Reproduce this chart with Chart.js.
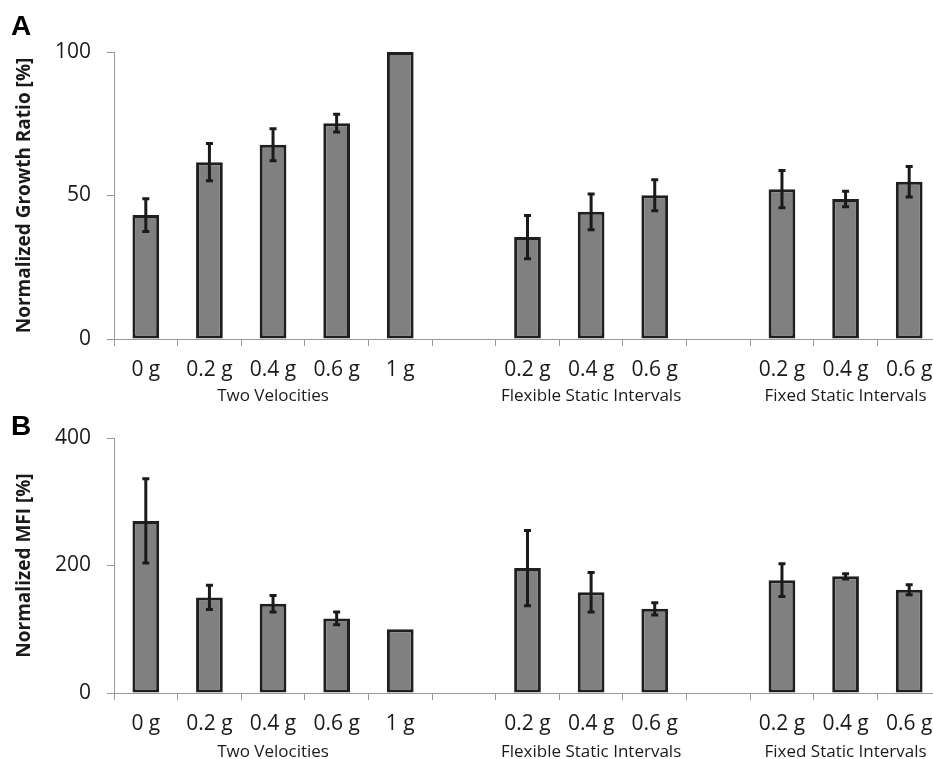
<!DOCTYPE html>
<html>
<head>
<meta charset="utf-8">
<script src="https://cdn.jsdelivr.net/npm/chart.js@4.4.0/dist/chart.umd.min.js"></script>
<style>
    html, body { margin: 0; padding: 0; background: #fff; overflow: hidden; }
    body { width: 933px; height: 759px; position: relative; }
    .panel { position: absolute; left: 0; width: 945px; }
    #panelA { top: 0; height: 404px; }
    #panelB { top: 404px; height: 355px; }
</style>
</head>
<body>
<div class="panel" id="panelA"><canvas id="chartA"></canvas></div>
<div class="panel" id="panelB"><canvas id="chartB"></canvas></div>
<script>
// categories (empty slots are the gaps between groups)
const categories = ['0 g', '0.2 g', '0.4 g', '0.6 g', '1 g', '', '0.2 g', '0.4 g', '0.6 g', '', '0.2 g', '0.4 g', '0.6 g'];
const groupLabels = ['', '', 'Two Velocities', '', '', '', '', 'Flexible Static Intervals', '', '', '', 'Fixed Static Intervals', ''];

// A: normalized growth ratio
const growthRatio = [43.2, 61.6, 67.7, 75.2, 100, null, 35.5, 44.3, 50.1, null, 52.2, 48.8, 54.8];
const growthError = [5.7, 6.5, 5.6, 3.1, 0, null, 7.5, 6.2, 5.4, null, 6.5, 2.7, 5.3];
const growthTicks = [0, 50, 100];

// B: normalized MFI
const mfiValues = [270, 150, 140, 117, 100, null, 196, 158, 132, null, 177, 183, 162];
const mfiError = [66, 19, 13, 10, 0, null, 59, 31, 9.5, null, 25.6, 4, 8];
const mfiTicks = [0, 200, 400];

const axisGray = '#9a9a9a';
const textColor = '#1a1a1a';

// error bars + panel letter
const errorBarPlugin = {
    id: 'errorBars',
    afterDatasetsDraw(chart, args, opts) {
        const ctx = chart.ctx;
        const meta = chart.getDatasetMeta(0);
        const yScale = chart.scales.y;
        const values = chart.data.datasets[0].data;
        ctx.save();
        ctx.strokeStyle = '#1a1a1a';
        ctx.lineWidth = 3;
        ctx.lineCap = 'butt';
        opts.errors.forEach((err, i) => {
            if (values[i] === null || !err) return;
            const x = meta.data[i].x;
            const yTop = yScale.getPixelForValue(values[i] + err);
            const yBot = yScale.getPixelForValue(values[i] - err);
            ctx.beginPath();
            ctx.moveTo(x, yTop);
            ctx.lineTo(x, yBot);
            ctx.moveTo(x - 3.5, yTop);
            ctx.lineTo(x + 3.5, yTop);
            ctx.moveTo(x - 3.5, yBot);
            ctx.lineTo(x + 3.5, yBot);
            ctx.stroke();
        });
        ctx.restore();
    },
    afterDraw(chart, args, opts) {
        const ctx = chart.ctx;
        ctx.save();
        ctx.fillStyle = '#000';
        ctx.font = 'bold 28px "Liberation Sans", Arial, sans-serif';
        ctx.textBaseline = 'alphabetic';
        ctx.fillText(opts.letter, 11, opts.letterY);
        ctx.restore();
    }
};

function makePanel(canvasId, values, errors, ticks, yTitle, letter, letterY, padTop, x2Height, x2Pad) {
    new Chart(document.getElementById(canvasId), {
        type: 'bar',
        data: {
            labels: categories,
            datasets: [{
                data: values,
                backgroundColor: '#808080',
                borderColor: '#1f1f1f',
                borderWidth: 3,
                borderSkipped: false,
                categoryPercentage: 1,
                barPercentage: 0.42
            }]
        },
        options: {
            responsive: true,
            maintainAspectRatio: false,
            animation: false,
            layout: { padding: { top: padTop, right: 4, bottom: 0, left: 0 } },
            plugins: {
                legend: { display: false },
                tooltip: { enabled: false },
                errorBars: { errors: errors, letter: letter, letterY: letterY }
            },
            scales: {
                x: {
                    type: 'category',
                    position: 'bottom',
                    weight: 0,
                    offset: true,
                    grid: { offset: true, drawOnChartArea: false, drawTicks: true, tickLength: 7, color: axisGray },
                    border: { display: true, color: axisGray, width: 1 },
                    ticks: {
                        autoSkip: false, maxRotation: 0, minRotation: 0, padding: 11,
                        color: textColor, font: { family: '"Open Sans", sans-serif', size: 21 }
                    },
                    afterFit: (scale) => { scale.height = 46; }
                },
                x2: {
                    type: 'category',
                    position: 'bottom',
                    weight: 1,
                    offset: true,
                    labels: groupLabels,
                    grid: { display: false },
                    border: { display: false },
                    ticks: {
                        autoSkip: false, maxRotation: 0, minRotation: 0, padding: x2Pad,
                        color: textColor, font: { family: '"Open Sans", sans-serif', size: 17 }
                    },
                    afterFit: (scale) => { scale.height = x2Height; }
                },
                y: {
                    min: ticks[0],
                    max: ticks[ticks.length - 1],
                    afterBuildTicks: (scale) => { scale.ticks = ticks.map(v => ({ value: v })); },
                    grid: { drawOnChartArea: false, drawTicks: true, tickLength: 7, color: axisGray },
                    border: { display: true, color: axisGray, width: 1 },
                    ticks: {
                        padding: 16, color: textColor,
                        font: { family: '"Open Sans", sans-serif', size: 21 }
                    },
                    title: {
                        display: true,
                        text: yTitle,
                        color: textColor,
                        padding: { top: 13, bottom: 0 },
                        font: { family: '"Open Sans", sans-serif', size: 19, weight: 'bold' }
                    },
                    afterFit: (scale) => { scale.width = 114; }
                }
            }
        },
        plugins: [errorBarPlugin]
    });
}

makePanel('chartA', growthRatio, growthError, growthTicks, 'Normalized Growth Ratio [%]', 'A', 35, 52, 19, -7);
makePanel('chartB', mfiValues, mfiError, mfiTicks, 'Normalized MFI [%]', 'B', 31, 34, 20, -5);
</script>
</body>
</html>
